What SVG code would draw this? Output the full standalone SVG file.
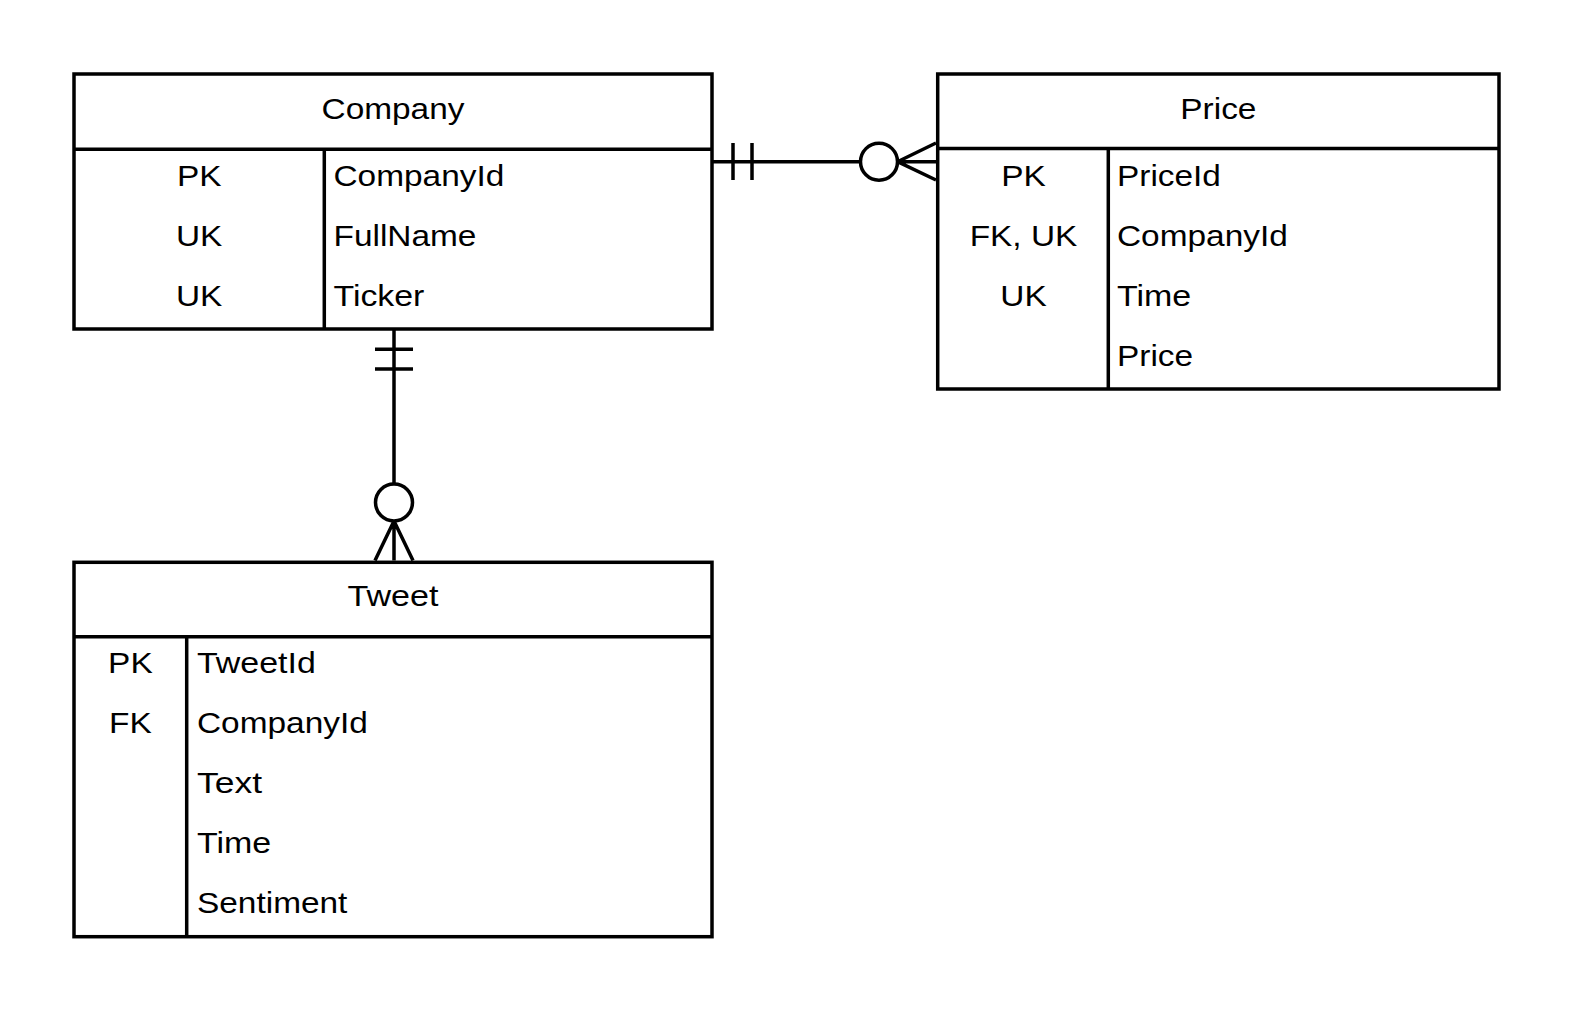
<svg xmlns="http://www.w3.org/2000/svg" width="1575" height="1013" viewBox="0 0 1575 1013">
  <style>
    .box { fill: #ffffff; stroke: #000000; stroke-width: 3.5; }
    .ln { fill: none; stroke: #000000; stroke-width: 3.5; }
    .t { font-family: "Liberation Sans", Arial, sans-serif; font-size: 30px; fill: #000000; }
    .c { text-anchor: middle; }
  </style>
  <rect x="0" y="0" width="1575" height="1013" fill="#ffffff"/>

  <g id="company">
    <rect class="box" x="74" y="74" width="638" height="255"/>
    <path class="ln" d="M74,149.3 H712 M324.3,149.3 V329"/>
    <text class="t c" x="393" y="119" textLength="142.9" lengthAdjust="spacingAndGlyphs">Company</text>
    <text class="t c" x="199.2" y="185.5" textLength="44.6" lengthAdjust="spacingAndGlyphs">PK</text>
    <text class="t c" x="199.2" y="245.8" textLength="46.4" lengthAdjust="spacingAndGlyphs">UK</text>
    <text class="t c" x="199.2" y="306" textLength="46.4" lengthAdjust="spacingAndGlyphs">UK</text>
    <text class="t" x="333.5" y="185.5" textLength="170.8" lengthAdjust="spacingAndGlyphs">CompanyId</text>
    <text class="t" x="333.5" y="245.8" textLength="142.9" lengthAdjust="spacingAndGlyphs">FullName</text>
    <text class="t" x="333.5" y="306" textLength="90.9" lengthAdjust="spacingAndGlyphs">Ticker</text>
  </g>

  <g id="price">
    <rect class="box" x="937.7" y="74" width="561.3" height="315"/>
    <path class="ln" d="M937.7,148.6 H1499 M1108.3,148.6 V389"/>
    <text class="t c" x="1218.4" y="119" textLength="76.1" lengthAdjust="spacingAndGlyphs">Price</text>
    <text class="t c" x="1023.5" y="185.5" textLength="44.6" lengthAdjust="spacingAndGlyphs">PK</text>
    <text class="t c" x="1023.5" y="245.8" textLength="107.6" lengthAdjust="spacingAndGlyphs">FK, UK</text>
    <text class="t c" x="1023.5" y="306" textLength="46.4" lengthAdjust="spacingAndGlyphs">UK</text>
    <text class="t" x="1117" y="185.5" textLength="103.9" lengthAdjust="spacingAndGlyphs">PriceId</text>
    <text class="t" x="1117" y="245.8" textLength="170.8" lengthAdjust="spacingAndGlyphs">CompanyId</text>
    <text class="t" x="1117" y="306" textLength="74.2" lengthAdjust="spacingAndGlyphs">Time</text>
    <text class="t" x="1117" y="366.4" textLength="76.1" lengthAdjust="spacingAndGlyphs">Price</text>
  </g>

  <g id="tweet">
    <rect class="box" x="74" y="562.3" width="638" height="374.4"/>
    <path class="ln" d="M74,636.7 H712 M186.7,636.7 V936.7"/>
    <text class="t c" x="393" y="605.7" textLength="90.9" lengthAdjust="spacingAndGlyphs">Tweet</text>
    <text class="t c" x="130.4" y="673.3" textLength="44.6" lengthAdjust="spacingAndGlyphs">PK</text>
    <text class="t c" x="130.4" y="733.3" textLength="42.7" lengthAdjust="spacingAndGlyphs">FK</text>
    <text class="t" x="197" y="673.3" textLength="118.8" lengthAdjust="spacingAndGlyphs">TweetId</text>
    <text class="t" x="197" y="733.3" textLength="170.8" lengthAdjust="spacingAndGlyphs">CompanyId</text>
    <text class="t" x="197" y="793.2" textLength="65" lengthAdjust="spacingAndGlyphs">Text</text>
    <text class="t" x="197" y="853.1" textLength="74.2" lengthAdjust="spacingAndGlyphs">Time</text>
    <text class="t" x="197" y="913" textLength="150.4" lengthAdjust="spacingAndGlyphs">Sentiment</text>
  </g>

  <g id="connectors">
    <g id="company-price">
      <path class="ln" d="M712,161.7 H860.5"/>
      <path class="ln" d="M733,143 V180 M752,143 V180"/>
      <circle class="ln" cx="879" cy="161.7" r="18.5"/>
      <path class="ln" d="M897.5,161.7 L936,143 M897.5,161.7 L936,180 M897.5,161.7 H936"/>
    </g>
    <g id="company-tweet">
      <path class="ln" d="M394,329 V484"/>
      <path class="ln" d="M375,349.3 H413 M375,369 H413"/>
      <circle class="ln" cx="394" cy="502.5" r="18.5"/>
      <path class="ln" d="M394,521 L375,560.5 M394,521 L413,560.5 M394,521 V560.5"/>
    </g>
  </g>
</svg>
